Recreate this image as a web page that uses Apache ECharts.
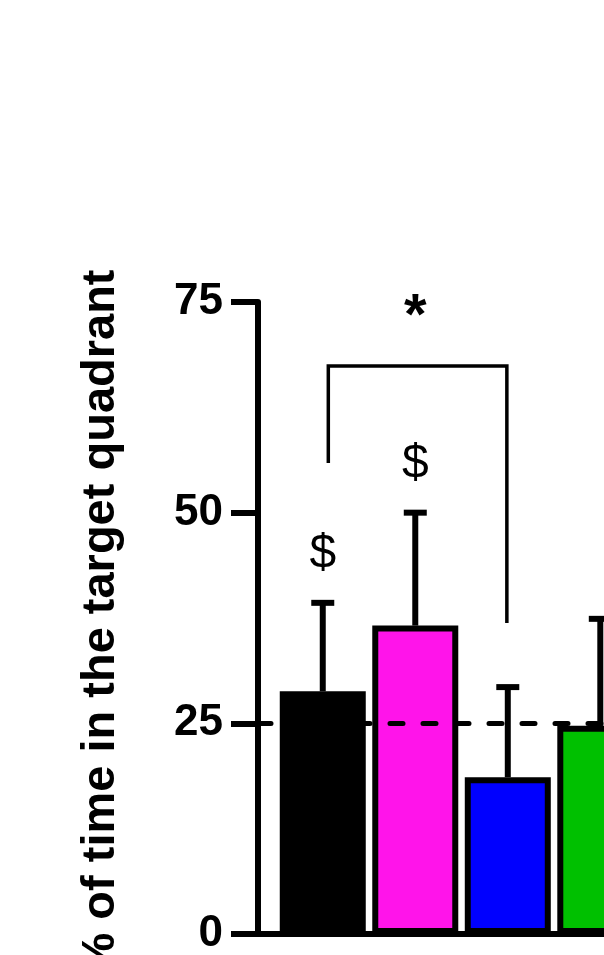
<!DOCTYPE html>
<html>
<head>
<meta charset="utf-8">
<script src="https://cdn.jsdelivr.net/npm/echarts@6/dist/echarts.min.js"></script>
<style>
html,body{margin:0;padding:0;background:#fff;}
#chart{width:604px;height:955px;}
</style>
</head>
<body>
<div id="chart"></div>
<script>
// ---- data ----
const categories = ['Group 1', 'Group 2', 'Group 3', 'Group 4'];
const means = [28.8, 36.6, 18.6, 24.7];
const upperError = [39.3, 50.0, 29.3, 37.4];
const barColors = ['#000000', '#FF14EA', '#0000FF', '#00C000'];
const chanceLevel = 25;
const yTickValues = [0, 25, 50, 75];
const dollarLabelY = [45.0, 55.7, null, null];
const bracketX = [0.06, 1.99];
const bracketY = [55.9, 67.4, 67.4, 36.9];
const starPos = [1.0, 73.1];
const yTitle = '% of time in the target quadrant';

const FONT = '"Liberation Sans", Arial, sans-serif';

const chart = echarts.init(document.getElementById('chart'), null, {renderer: 'canvas'});

const barData = means.map((v, i) => ({
  value: [i, v],
  itemStyle: {color: barColors[i], borderColor: '#000', borderWidth: 6}
}));
const errData = means.map((v, i) => [i, v, upperError[i]]);
const dollarData = dollarLabelY.map((y, i) => [i, y]).filter(d => d[1] !== null);

const option = {
  animation: false,
  backgroundColor: '#fff',
  grid: {left: 258, right: 0, top: 302, bottom: 21, containLabel: false, outerBoundsMode: 'none'},
  xAxis: {
    type: 'value', min: -0.7, max: 3.04,
    axisLine: {show: true, onZero: true, lineStyle: {color: '#000', width: 6}},
    axisTick: {show: false}, axisLabel: {show: false}, splitLine: {show: false}
  },
  yAxis: {
    type: 'value', min: yTickValues[0], max: yTickValues[yTickValues.length - 1], interval: 25,
    name: yTitle, nameLocation: 'middle', nameGap: 133,
    nameTextStyle: {fontFamily: FONT, fontWeight: 'bold', fontSize: 47, color: '#000', padding: [0, 8, 0, 0]},
    axisLine: {show: true, onZero: false, lineStyle: {color: '#000', width: 6}},
    axisTick: {show: true, length: 27, lineStyle: {color: '#000', width: 6}},
    axisLabel: {margin: 35, fontFamily: FONT, fontWeight: 'bold', fontSize: 44, color: '#000'},
    splitLine: {show: false}
  },
  series: [
    {
      type: 'bar', name: 'means', data: barData, barWidth: 86, z: 2,
      markLine: {
        silent: true, symbol: ['none', 'none'], z: 5,
        label: {show: false},
        lineStyle: {color: '#000', width: 5, type: [13, 20], cap: 'round'},
        data: [{yAxis: chanceLevel}]
      }
    },
    {
      type: 'custom', name: 'error', data: errData, z: 6,
      encode: {x: 0, y: [1, 2]},
      renderItem: function (params, api) {
        const x = api.value(0);
        const base = api.coord([x, api.value(1)]);
        const top = api.coord([x, api.value(2)]);
        const st = {stroke: '#000', lineWidth: 6};
        return {
          type: 'group',
          children: [
            {type: 'line', shape: {x1: base[0], y1: base[1], x2: top[0], y2: top[1]}, style: st},
            {type: 'line', shape: {x1: top[0] - 11.5, y1: top[1], x2: top[0] + 11.5, y2: top[1]}, style: st}
          ]
        };
      }
    },
    {
      type: 'custom', name: 'dollar', data: dollarData, z: 7,
      encode: {x: 0, y: 1},
      renderItem: function (params, api) {
        const p = api.coord([api.value(0), api.value(1)]);
        return {
          type: 'text', x: p[0], y: p[1],
          style: {text: '$', fontFamily: FONT, fontSize: 48, fill: '#000', align: 'center', verticalAlign: 'middle'}
        };
      }
    },
    {
      type: 'custom', name: 'bracket', data: [[bracketX[0], bracketX[1]]], z: 7,
      encode: {x: [0, 1]},
      renderItem: function (params, api) {
        const x0 = api.value(0), x1 = api.value(1);
        const p1 = api.coord([x0, bracketY[0]]);
        const p2 = api.coord([x0, bracketY[1]]);
        const p3 = api.coord([x1, bracketY[2]]);
        const p4 = api.coord([x1, bracketY[3]]);
        const s = api.coord(starPos);
        return {
          type: 'group',
          children: [
            {type: 'polyline', shape: {points: [p1, p2, p3, p4]}, style: {stroke: '#000', lineWidth: 3.5, fill: null}},
            {type: 'text', x: s[0], y: s[1], style: {text: '*', fontFamily: FONT, fontWeight: 'bold', fontSize: 58, fill: '#000', align: 'center', verticalAlign: 'middle'}}
          ]
        };
      }
    }
  ]
};
chart.setOption(option);
</script>
</body>
</html>
